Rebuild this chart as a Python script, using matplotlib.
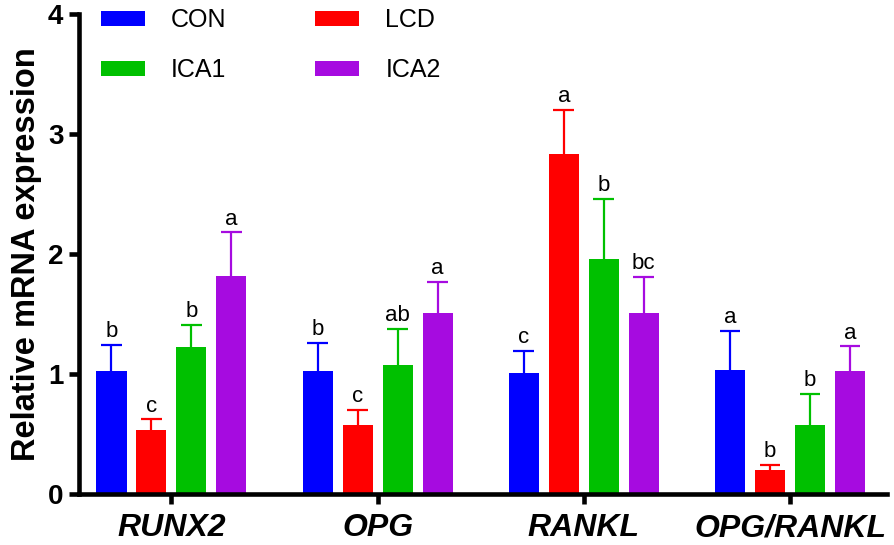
import numpy as np
import matplotlib
matplotlib.use("Agg")
import matplotlib.pyplot as plt

plt.rcParams['font.family'] = ['Liberation Sans', 'DejaVu Sans']

# Data
genes = ["RUNX2", "OPG", "RANKL", "OPG/RANKL"]
groups = ["CON", "LCD", "ICA1", "ICA2"]
colors = ["#0000FF", "#FF0000", "#00C000", "#A60BE0"]

con_mean = [1.02, 1.02, 1.01, 1.03]
lcd_mean = [0.53, 0.575, 2.83, 0.20]
ica1_mean = [1.22, 1.07, 1.96, 0.575]
ica2_mean = [1.82, 1.51, 1.51, 1.02]

con_err = [0.22, 0.24, 0.18, 0.33]
lcd_err = [0.09, 0.125, 0.37, 0.04]
ica1_err = [0.19, 0.305, 0.50, 0.255]
ica2_err = [0.36, 0.26, 0.30, 0.21]

con_sig = ["b", "b", "c", "a"]
lcd_sig = ["c", "c", "a", "b"]
ica1_sig = ["b", "ab", "b", "b"]
ica2_sig = ["a", "a", "bc", "a"]

means = [con_mean, lcd_mean, ica1_mean, ica2_mean]
errs = [con_err, lcd_err, ica1_err, ica2_err]
sigs = [con_sig, lcd_sig, ica1_sig, ica2_sig]

fig = plt.figure(figsize=(8.94, 5.45), dpi=100)
ax = fig.add_axes([0.088, 0.094, 0.904, 0.880])

x = np.arange(len(genes))
step = 0.194
width = 0.146
cap = 0.05
handles = []
for i, (g, c) in enumerate(zip(groups, colors)):
    pos = x + (i - 1.5) * step
    top = np.array(means[i]) + np.array(errs[i])
    h = ax.bar(pos, means[i], width=width, color=c, label=g, zorder=2)
    handles.append(h)
    # upper error bar only
    ax.vlines(pos, means[i], top, color=c, lw=1.6, zorder=1)
    ax.hlines(top, pos - cap, pos + cap, color=c, lw=1.6, zorder=1)
    for p, t, s in zip(pos, top, sigs[i]):
        ax.annotate(s, (p, t), xytext=(0, 2), textcoords="offset points",
                    ha="center", va="bottom", fontsize=16)

ax.set_xlim(-0.45, 3.47)
ax.set_ylim(0, 4)
ax.set_yticks([0, 1, 2, 3, 4])
ax.set_xticks(x)
ax.set_xticklabels(genes, fontsize=23, fontweight="bold", fontstyle="italic")
for lbl in ax.get_yticklabels():
    lbl.set_fontsize(20)
    lbl.set_fontweight("bold")
ax.set_ylabel("Relative mRNA expression", fontsize=23.5, fontweight="bold", labelpad=4)

for side in ["top", "right"]:
    ax.spines[side].set_visible(False)
for side in ["left", "bottom"]:
    ax.spines[side].set_linewidth(3.3)
ax.tick_params(axis="both", width=3.3, length=7, direction="out")
ax.tick_params(axis="x", pad=7)
ax.tick_params(axis="y", pad=4)

# legend filled row-wise: CON, LCD / ICA1, ICA2
order = [0, 2, 1, 3]
ax.legend([handles[k] for k in order], [groups[k] for k in order],
          loc="upper left", bbox_to_anchor=(0.0, 1.06), ncol=2, frameon=False,
          fontsize=18, handlelength=1.75, handleheight=0.55, handletextpad=1.05,
          columnspacing=3.55, labelspacing=1.05)

fig.savefig("out.png", dpi=100)
